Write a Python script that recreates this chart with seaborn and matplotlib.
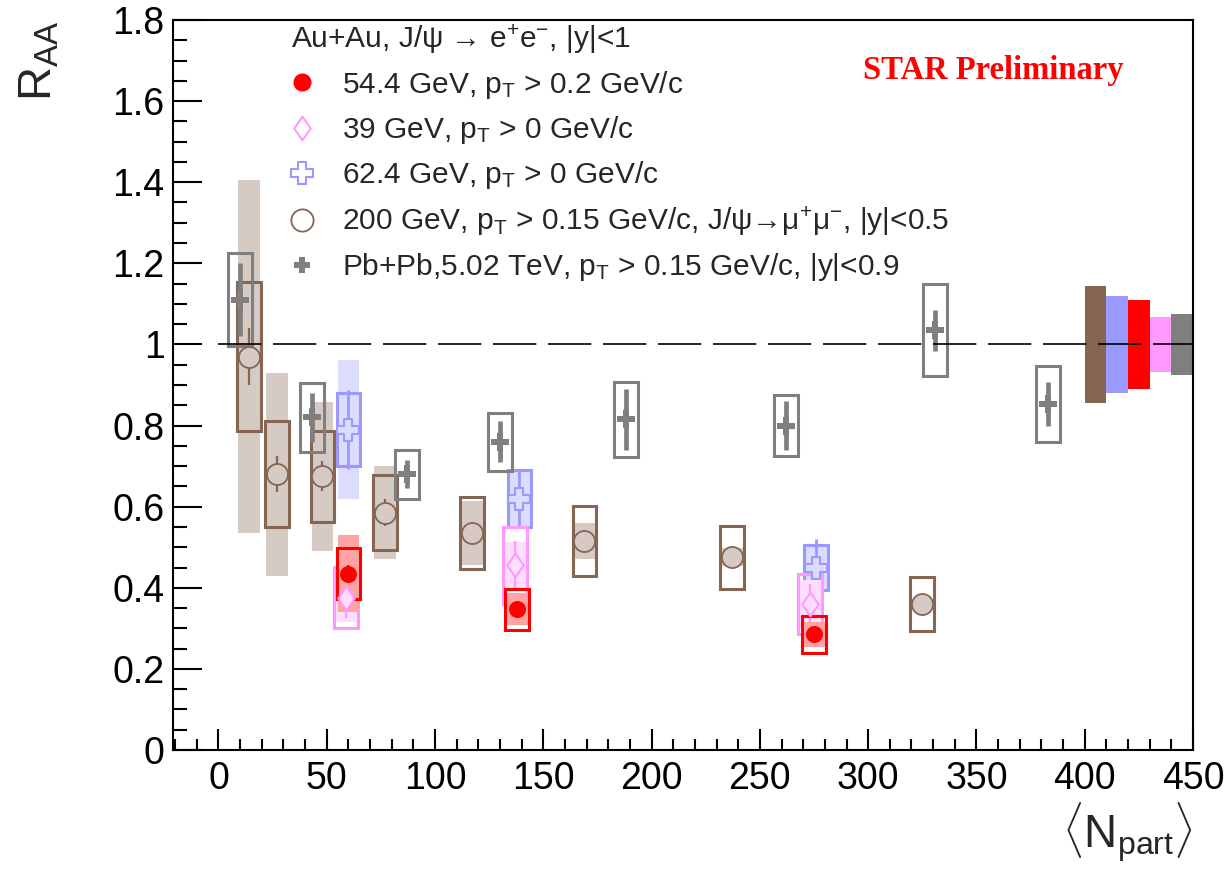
import numpy as np
import pandas as pd
import matplotlib
matplotlib.use("Agg")
import matplotlib.pyplot as plt
from matplotlib.lines import Line2D
from matplotlib.path import Path
import seaborn as sns

# ---------------- data ----------------
# Au+Au 54.4 GeV
n_544 = [60, 138, 275]
r_544 = [0.435, 0.347, 0.285]
stat_544 = [0.02, 0.02, 0.015]
sys_544 = [0.063, 0.05, 0.045]
band_544 = [0.095, 0.04, 0.03]

# Au+Au 39 GeV
n_39 = [59, 137, 273]
r_39 = [0.375, 0.455, 0.36]
stat_39 = [0.05, 0.06, 0.05]
sys_39 = [0.075, 0.095, 0.075]
band_39 = [0.06, 0.058, 0.06]

# Au+Au 62.4 GeV
n_624 = [60, 139, 276]
r_624 = [0.79, 0.62, 0.45]
stat_624 = [0.098, 0.07, 0.07]
sys_624 = [0.09, 0.07, 0.055]
band_624 = [0.172, 0.07, 0.055]

# Au+Au 200 GeV (dimuon)
n_200 = [14, 27, 48, 77, 117, 169, 237, 325]
r_200 = [0.97, 0.68, 0.675, 0.585, 0.535, 0.515, 0.475, 0.36]
stat_200 = [0.07, 0.045, 0.037, 0.033, 0.02, 0.02, 0.02, 0.015]
sys_200 = [0.183, 0.13, 0.112, 0.093, 0.089, 0.087, 0.078, 0.067]
band_200 = [0.435, 0.25, 0.184, 0.115, 0.08, 0.045, 0.022, 0.011]

# Pb+Pb 5.02 TeV
n_pb = [10, 43, 87, 130, 188, 262, 331, 383]
r_pb = [1.11, 0.82, 0.68, 0.76, 0.815, 0.80, 1.035, 0.853]
stat_pb = [0.09, 0.06, 0.035, 0.05, 0.075, 0.06, 0.05, 0.055]
sys_pb = [0.115, 0.085, 0.06, 0.072, 0.092, 0.075, 0.113, 0.094]

# global normalisation uncertainties (200, 62.4, 54.4, 39 GeV, Pb+Pb)
glob_pos = [405, 415, 425, 435, 445]
glob_unc = [0.145, 0.12, 0.11, 0.067, 0.075]

xticks = [0, 50, 100, 150, 200, 250, 300, 350, 400, 450]
yticks = [0, 0.2, 0.4, 0.6, 0.8, 1.0, 1.2, 1.4, 1.6, 1.8]
ytick_labels = ["0", "0.2", "0.4", "0.6", "0.8", "1", "1.2", "1.4", "1.6", "1.8"]

# ---------------- style ----------------
sns.set_theme(style="ticks")
plt.rcParams["font.family"] = ["Liberation Sans", "DejaVu Sans"]
plt.rcParams["mathtext.fontset"] = "custom"
plt.rcParams["mathtext.rm"] = "Liberation Sans"
plt.rcParams["mathtext.it"] = "Liberation Sans:italic"
plt.rcParams["mathtext.bf"] = "Liberation Sans:bold"

C_BROWN, F_BROWN = "#866553", "#D6CBC4"
C_GRAY = "#7F7F7F"
C_BLUE, F_BLUE = "#9999FF", "#DCDCFF"
C_RED, F_RED = "#FF0000", "#FFA3A3"
C_PINK, F_PINK = "#FF99FF", "#FFDDFF"

thin_diamond = Path([(-0.7, 0), (0, 1), (0.7, 0), (0, -1), (-0.7, 0)],
                    [Path.MOVETO, Path.LINETO, Path.LINETO, Path.LINETO, Path.CLOSEPOLY])

fig = plt.figure(figsize=(12.3, 8.72), dpi=100)
ax = fig.add_axes([173 / 1230, 1 - 750 / 872, 1020 / 1230, 730 / 872])

BOX_W, BAND_W = 11, 10


def draw_series(n, r, stat, sys, band, col, fill, stat_lw, z):
    n = np.asarray(n, float)
    r = np.asarray(r, float)
    if band is not None:
        band = np.asarray(band, float)
        ax.bar(n, 2 * band, bottom=r - band, width=BAND_W, color=fill,
               linewidth=0, zorder=z)
    sys = np.asarray(sys, float)
    ax.bar(n, 2 * sys, bottom=r - sys, width=BOX_W, fill=False,
           edgecolor=col, linewidth=2.2, zorder=z + 1)
    ax.errorbar(n, r, yerr=stat, fmt="none", ecolor=col, elinewidth=stat_lw,
                capsize=0, zorder=z + 2)


draw_series(n_200, r_200, stat_200, sys_200, band_200, C_BROWN, F_BROWN, 1.6, 1)
draw_series(n_624, r_624, stat_624, sys_624, band_624, C_BLUE, F_BLUE, 2.0, 4)
draw_series(n_39, r_39, stat_39, sys_39, band_39, C_PINK, F_PINK, 1.6, 7)
draw_series(n_544, r_544, stat_544, sys_544, band_544, C_RED, F_RED, 1.6, 10)
draw_series(n_pb, r_pb, stat_pb, sys_pb, None, C_GRAY, None, 3.4, 13)

# global uncertainty boxes at unity
ax.bar(glob_pos, 2 * np.asarray(glob_unc), bottom=1 - np.asarray(glob_unc),
       width=10, color=[C_BROWN, C_BLUE, C_RED, C_PINK, C_GRAY], linewidth=0,
       zorder=2)

ax.hlines(1, 0, 450, colors="black", linestyles=(0, (26, 7)), linewidth=1.2,
          zorder=20)

# markers
sns.scatterplot(x=n_200, y=r_200, marker="o", s=230, facecolor=F_BROWN,
                edgecolor=C_BROWN, linewidth=1.3, ax=ax, zorder=30, legend=False)
sns.scatterplot(x=n_624, y=r_624, marker="P", s=260, facecolor=F_BLUE,
                edgecolor=C_BLUE, linewidth=1.5, ax=ax, zorder=31, legend=False)
sns.scatterplot(x=n_39, y=r_39, marker=thin_diamond, s=290, facecolor=F_PINK,
                edgecolor=C_PINK, linewidth=1.5, ax=ax, zorder=32, legend=False)
sns.scatterplot(x=n_544, y=r_544, marker="o", s=150, color=C_RED,
                linewidth=0, ax=ax, zorder=33, legend=False)
sns.scatterplot(x=n_pb, y=r_pb, marker="P", s=150, color=C_GRAY,
                linewidth=0, ax=ax, zorder=34, legend=False)

# axes
ax.set_xlim(-21, 450)
ax.set_ylim(0, 1.8)
ax.set_xticks(xticks)
ax.set_xticks(np.arange(-20, 451, 10), minor=True)
ax.set_yticks(yticks)
ax.set_yticklabels(ytick_labels)
ax.set_yticks(np.arange(0, 1.801, 0.05), minor=True)
ax.tick_params(axis="both", which="both", direction="in", width=1.5,
               colors="black", labelsize=27)
ax.tick_params(axis="y", which="major", length=21, pad=6)
ax.tick_params(axis="y", which="minor", length=10)
ax.tick_params(axis="x", which="major", length=15, pad=8)
ax.tick_params(axis="x", which="minor", length=8)
for sp in ax.spines.values():
    sp.set_linewidth(1.5)
    sp.set_color("black")

ax.set_ylabel(r"$\mathrm{R}_{\mathrm{AA}}$", fontsize=34, loc="top", labelpad=37)
ax.set_xlabel(r"$\langle\mathrm{N}_{\mathrm{part}}\rangle$", fontsize=33,
              loc="right", labelpad=2)

# legend
handles = [
    Line2D([], [], ls="none", marker="o", ms=12, color=C_RED, mec=C_RED),
    Line2D([], [], ls="none", marker=thin_diamond, ms=17, mfc="white", mec=C_PINK, mew=1.5),
    Line2D([], [], ls="none", marker="P", ms=16, mfc="white", mec=C_BLUE, mew=1.5),
    Line2D([], [], ls="none", marker="o", ms=16, mfc="white", mec=C_BROWN, mew=1.3),
    Line2D([], [], ls="none", marker="P", ms=12, color=C_GRAY, mew=0),
]
labels = [
    r"54.4 GeV, p$_{\mathrm{T}}$ > 0.2 GeV/c",
    r"39 GeV, p$_{\mathrm{T}}$ > 0 GeV/c",
    r"62.4 GeV, p$_{\mathrm{T}}$ > 0 GeV/c",
    r"200 GeV, p$_{\mathrm{T}}$ > 0.15 GeV/c, J/ψ→μ$^{+}$μ$^{-}$, |y|<0.5",
    r"Pb+Pb,5.02 TeV, p$_{\mathrm{T}}$ > 0.15 GeV/c, |y|<0.9",
]
leg = ax.legend(handles, labels, title=r"Au+Au, J/ψ → e$^{+}$e$^{-}$, |y|<1",
                loc="upper left", bbox_to_anchor=(276 / 1230, 1 - 7 / 872),
                bbox_transform=fig.transFigure, frameon=False, fontsize=21.5,
                title_fontsize=21.5, alignment="left", borderpad=0,
                handlelength=0.75, handletextpad=0.95, labelspacing=0.44)

fig.text(863 / 1230, 1 - 71 / 872, "STAR Preliminary", color="red",
         fontsize=23.5, fontweight="bold", family="Liberation Serif",
         ha="left", va="center")

fig.savefig("out.png", dpi=100, facecolor="white")
